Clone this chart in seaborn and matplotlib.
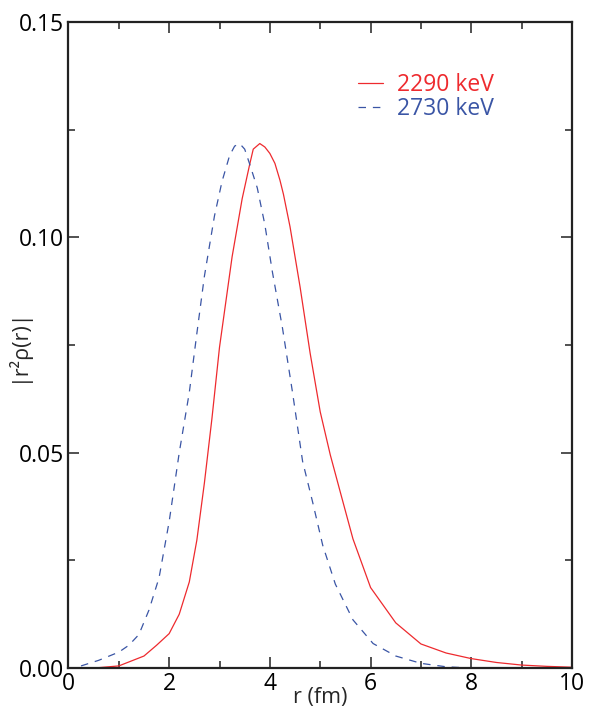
import numpy as np
import matplotlib
matplotlib.use("Agg")
import matplotlib.pyplot as plt
from matplotlib.ticker import MultipleLocator
import seaborn as sns

# |r^2 rho(r)|
r_2290 = [0.5, 1.0, 1.5, 1.75, 2.0, 2.2, 2.4, 2.55, 2.7, 2.85, 3.0, 3.25, 3.45, 3.6, 3.67, 3.8,
          3.9, 4.0, 4.1, 4.2, 4.27, 4.4, 4.6, 4.8, 5.0, 5.2, 5.4, 5.65, 6.0, 6.5, 7.0, 7.5,
          8.0, 8.5, 9.0, 9.5, 10.0]
rho_2290 = [0.0, 0.0005, 0.0028, 0.0053, 0.0080, 0.0125, 0.0200, 0.0297, 0.0430, 0.0580,
            0.0745, 0.0955, 0.1090, 0.1170, 0.1205, 0.1218, 0.1210, 0.1195, 0.1172, 0.1133,
            0.1100, 0.1025, 0.0885, 0.0731, 0.0595, 0.0495, 0.0408, 0.0300, 0.0187, 0.0105,
            0.0056, 0.0035, 0.0022, 0.0013, 0.0007, 0.0004, 0.0002]

r_2730 = [0.25, 0.6, 1.0, 1.2, 1.4, 1.6, 1.8, 2.0, 2.2, 2.4, 2.55, 2.7, 2.9, 3.05, 3.2, 3.3,
          3.4, 3.5, 3.6, 3.75, 3.9, 4.05, 4.25, 4.45, 4.65, 4.85, 5.05, 5.3, 5.65, 6.05,
          6.5, 7.0, 7.5, 8.0]
rho_2730 = [0.0005, 0.0018, 0.0037, 0.0053, 0.0078, 0.0135, 0.0210, 0.0340, 0.0500, 0.0640,
            0.0777, 0.0910, 0.1050, 0.1130, 0.1190, 0.1212, 0.1218, 0.1205, 0.1170, 0.1115,
            0.1030, 0.0920, 0.0790, 0.0640, 0.0480, 0.0385, 0.0285, 0.0195, 0.0112, 0.0057,
            0.0028, 0.0011, 0.0003, 0.0]

labels = ["2290 keV", "2730 keV"]
colors = ["#ee2a2e", "#3a55a5"]

sns.set_style("ticks")
plt.rcParams['font.family'] = ['Open Sans', 'DejaVu Sans']

fig = plt.figure(figsize=(5.9, 7.13), dpi=100)
ax = fig.add_axes([0.116, 0.063, 0.8535, 0.906])

sns.lineplot(x=r_2290, y=rho_2290, ax=ax, color=colors[0], linewidth=0.9, label=labels[0])
sns.lineplot(x=r_2730, y=rho_2730, ax=ax, color=colors[1], linewidth=0.9,
             linestyle=(0, (6, 5.5)), label=labels[1])

ax.set_xlim(0, 10)
ax.set_ylim(0, 0.15)
ax.xaxis.set_major_locator(MultipleLocator(2))
ax.xaxis.set_minor_locator(MultipleLocator(1))
ax.yaxis.set_major_locator(MultipleLocator(0.05))
ax.yaxis.set_minor_locator(MultipleLocator(0.025))
ax.yaxis.set_major_formatter(matplotlib.ticker.FormatStrFormatter('%.2f'))

ax.tick_params(which='both', direction='in', top=True, right=True, colors='#222222',
               labelcolor='black', labelsize=16.5, width=1.1)
ax.tick_params(which='major', length=8, pad=3)
ax.tick_params(which='minor', length=5)
for s in ax.spines.values():
    s.set_linewidth(1.6)
    s.set_color('#222222')

ax.set_xlabel('r (fm)', fontsize=15.5)
ax.set_ylabel('|r²ρ(r)|', fontsize=15.5)
ax.xaxis.set_label_coords(0.5, -0.03)
ax.yaxis.set_label_coords(-0.078, 0.5)

leg = ax.legend(loc='upper left', bbox_to_anchor=(0.534, 0.953), frameon=False, fontsize=16.5,
                handlelength=1.1, handletextpad=0.6, labelspacing=0.0)
for t, c in zip(leg.get_texts(), colors):
    t.set_color(c)

fig.savefig('out.png', dpi=100)
